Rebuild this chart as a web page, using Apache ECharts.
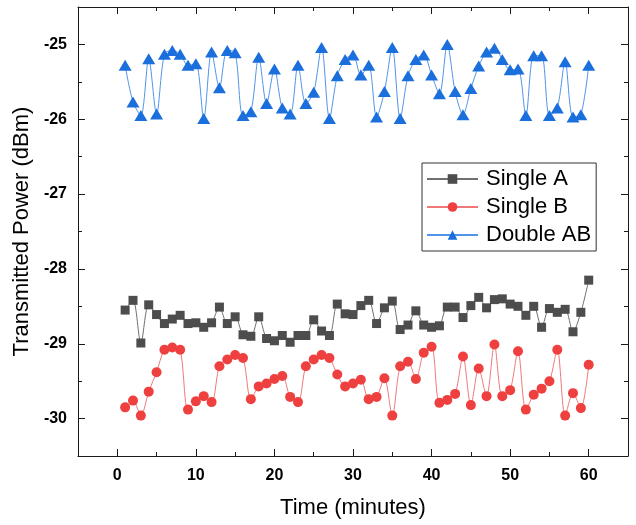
<!DOCTYPE html>
<html><head><meta charset="utf-8">
<script src="https://cdn.jsdelivr.net/npm/echarts@6/dist/echarts.min.js"></script>
<style>html,body{margin:0;padding:0;background:#fff}#c{width:636px;height:525px}</style>
</head><body><div id="c"></div>
<script>
const timeMinutes = [1,2,3,4,5,6,7,8,9,10,11,12,13,14,15,16,17,18,19,20,21,22,23,24,25,26,27,28,29,30,31,32,33,34,35,36,37,38,39,40,41,42,43,44,45,46,47,48,49,50,51,52,53,54,55,56,57,58,59,60];
const singleA = [-28.55,-28.42,-28.99,-28.48,-28.61,-28.73,-28.67,-28.62,-28.73,-28.72,-28.78,-28.72,-28.51,-28.73,-28.64,-28.88,-28.90,-28.64,-28.93,-28.96,-28.89,-28.98,-28.89,-28.89,-28.68,-28.83,-28.89,-28.47,-28.60,-28.61,-28.49,-28.42,-28.73,-28.52,-28.43,-28.81,-28.75,-28.56,-28.75,-28.78,-28.76,-28.51,-28.51,-28.65,-28.49,-28.38,-28.52,-28.41,-28.40,-28.47,-28.50,-28.62,-28.50,-28.78,-28.53,-28.58,-28.54,-28.84,-28.58,-28.15];
const singleB = [-29.85,-29.76,-29.96,-29.64,-29.38,-29.08,-29.05,-29.08,-29.88,-29.77,-29.70,-29.78,-29.30,-29.21,-29.15,-29.19,-29.74,-29.57,-29.53,-29.47,-29.43,-29.71,-29.78,-29.30,-29.21,-29.15,-29.19,-29.41,-29.57,-29.53,-29.48,-29.74,-29.71,-29.46,-29.96,-29.30,-29.24,-29.47,-29.12,-29.04,-29.79,-29.75,-29.67,-29.17,-29.82,-29.33,-29.70,-29.01,-29.70,-29.62,-29.10,-29.88,-29.68,-29.60,-29.50,-29.08,-29.96,-29.66,-29.86,-29.28];
const doubleAB = [-25.28,-25.77,-25.95,-25.19,-25.93,-25.13,-25.08,-25.13,-25.28,-25.26,-25.99,-25.10,-25.58,-25.08,-25.11,-25.95,-25.90,-25.17,-25.79,-25.33,-25.85,-25.93,-25.28,-25.79,-25.64,-25.04,-25.99,-25.42,-25.20,-25.14,-25.41,-25.28,-25.97,-25.63,-25.04,-25.99,-25.42,-25.20,-25.14,-25.41,-25.66,-25.00,-25.63,-25.94,-25.59,-25.29,-25.10,-25.05,-25.20,-25.34,-25.33,-25.95,-25.15,-25.15,-25.95,-25.85,-25.23,-25.97,-25.94,-25.28];
const seriesNames = ['Single A', 'Single B', 'Double AB'];
const xTitle = 'Time (minutes)';
const yTitle = 'Transmitted Power (dBm)';

const pair = arr => timeMinutes.map((t, i) => [t, arr[i]]);
const axisColor = '#1a1a1a';
const lineStyleAxis = { color: axisColor, width: 1 };
const font = 'Liberation Sans, Arial, sans-serif';

function xAx(pos, main) {
  return {
    type: 'value', min: -5, max: 65, splitNumber: 7, position: pos,
    axisLine: { show: true, onZero: false, lineStyle: lineStyleAxis },
    axisTick: { show: true, inside: true, length: 7, lineStyle: lineStyleAxis },
    minorTick: { show: true, splitNumber: 2, length: 4, lineStyle: lineStyleAxis },
    splitLine: { show: false }, minorSplitLine: { show: false },
    axisLabel: main ? { show: true, margin: 12, fontFamily: font, fontSize: 16, fontWeight: 'bold', color: '#000',
      formatter: v => (v % 10 === 0 ? String(v) : '') } : { show: false },
    name: main ? xTitle : '', nameLocation: 'middle', nameGap: 41,
    nameTextStyle: { fontFamily: font, fontSize: 22, color: '#000' }
  };
}
function yAx(pos, main) {
  return {
    type: 'value', min: -30.5, max: -24.5, splitNumber: 6, position: pos,
    axisLine: { show: true, onZero: false, lineStyle: lineStyleAxis },
    axisTick: { show: true, inside: true, length: 7, lineStyle: lineStyleAxis },
    minorTick: { show: true, splitNumber: 2, length: 4, lineStyle: lineStyleAxis },
    splitLine: { show: false }, minorSplitLine: { show: false },
    axisLabel: main ? { show: true, margin: 11, fontFamily: font, fontSize: 16, fontWeight: 'bold', color: '#000',
      formatter: v => (Number.isInteger(v) ? String(v) : '') } : { show: false },
    name: main ? yTitle : '', nameLocation: 'middle', nameGap: 44, nameRotate: 90,
    nameTextStyle: { fontFamily: font, fontSize: 22, color: '#000' }
  };
}

const chart = echarts.init(document.getElementById('c'), null, { renderer: 'canvas' });
chart.setOption({
  animation: false,
  backgroundColor: '#fff',
  grid: { left: 78, right: 8, top: 7, bottom: 69, containLabel: false },
  xAxis: [xAx('bottom', true), xAx('top', false)],
  yAxis: [yAx('left', true), yAx('right', false)],
  legend: {
    orient: 'vertical', left: 422, top: 163,
    data: seriesNames,
    itemWidth: 51, itemHeight: 12, itemGap: 6,
    padding: [5, 5, 5, 4],
    borderColor: '#333', borderWidth: 1, borderRadius: 0,
    textStyle: { fontFamily: font, fontSize: 22, color: '#000', padding: [0, 0, 0, 3] }
  },
  series: [
    { name: seriesNames[0], type: 'line', data: pair(singleA), smooth: 0.3,
      symbol: 'rect', symbolSize: 9,
      itemStyle: { color: '#4d4d4d' }, lineStyle: { color: '#707070', width: 1 } },
    { name: seriesNames[1], type: 'line', data: pair(singleB), smooth: 0.3,
      symbol: 'circle', symbolSize: 10,
      itemStyle: { color: '#ef4040' }, lineStyle: { color: '#f07878', width: 1 } },
    { name: seriesNames[2], type: 'line', data: pair(doubleAB), smooth: 0.3,
      symbol: 'triangle', symbolSize: [13, 11],
      itemStyle: { color: '#1a6fdc' }, lineStyle: { color: '#4f94ea', width: 1 } }
  ]
});
</script></body></html>
